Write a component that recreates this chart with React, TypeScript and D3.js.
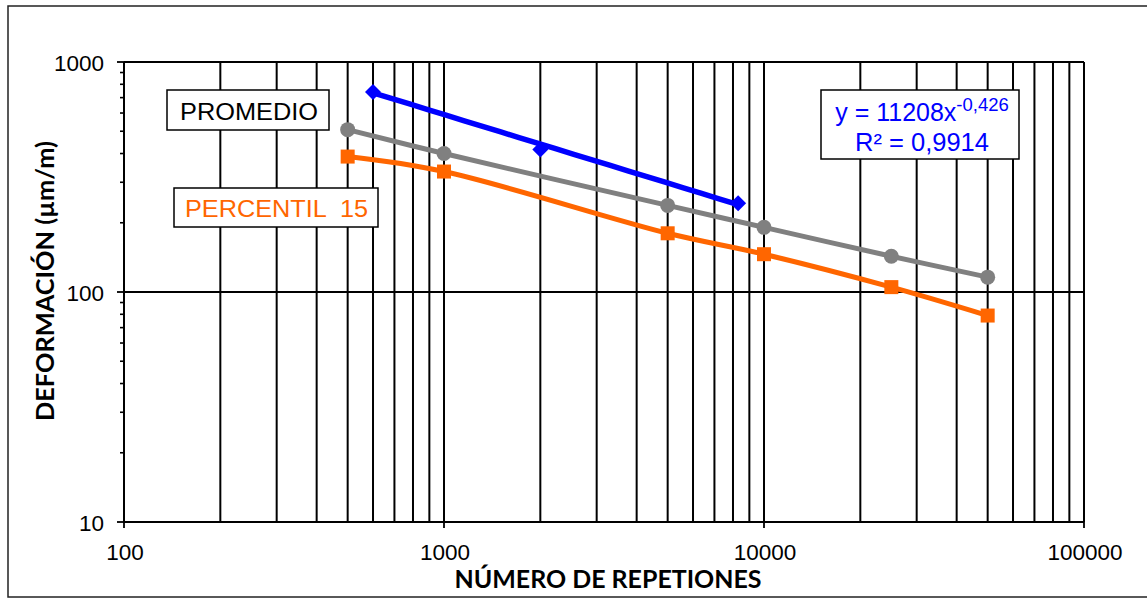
import React from "react";
import * as d3 from "d3";

const xTicks = [100, 1000, 10000, 100000];
const yTicks = [10, 100, 1000];

const promedioX = [500, 1000, 5000, 10000, 25000, 50000];
const promedioY = [508, 400, 238, 191, 143, 116];

const percentilX = [500, 1000, 5000, 10000, 25000, 50000];
const percentilY = [388, 334, 180, 146, 105, 79];

const azulX = [600, 2000, 8300];
const azulY = [741, 416, 243];

const trendA = 11208;
const trendB = -0.426;
const trendRange = [600, 8300];

export default function App() {
  const W = 1147, H = 599;
  const left = 124, right = 1084, top = 62, bottom = 522;
  const x = d3.scaleLog().domain([100, 100000]).range([left, right]);
  const y = d3.scaleLog().domain([10, 1000]).range([bottom, top]);

  const minorX: number[] = [];
  for (let d = 100; d < 100000; d *= 10) for (let k = 1; k <= 10; k++) minorX.push(d * k);
  const minorY: number[] = [];
  for (let d = 10; d < 1000; d *= 10) for (let k = 2; k <= 9; k++) minorY.push(d * k);

  const smooth = d3.line<[number, number]>().x(d => x(d[0])).y(d => y(d[1])).curve(d3.curveCatmullRom.alpha(0.5));
  const promPts = promedioX.map((v, i) => [v, promedioY[i]] as [number, number]);
  const percPts = percentilX.map((v, i) => [v, percentilY[i]] as [number, number]);
  const trendPts: [number, number][] = d3.range(0, 21).map(i => {
    const lx = Math.log10(trendRange[0]) + (Math.log10(trendRange[1]) - Math.log10(trendRange[0])) * i / 20;
    const xv = Math.pow(10, lx);
    return [xv, trendA * Math.pow(xv, trendB)];
  });
  const straight = d3.line<[number, number]>().x(d => x(d[0])).y(d => y(d[1]));

  const font = "'Liberation Sans', Arial, sans-serif";
  const titleFont = "Lato, 'Open Sans', sans-serif";

  return (
    <svg width={W} height={H} style={{ position: "absolute", left: 0, top: 0, background: "#fff" }}>
      <rect x={8} y={6} width={1150} height={591} fill="#fff" stroke="#222" strokeWidth={1.5} />
      {minorX.map((v, i) => (
        <line key={"gx" + i} x1={x(v)} x2={x(v)} y1={top} y2={bottom} stroke="#000" strokeWidth={2} />
      ))}
      {yTicks.map((v, i) => (
        <line key={"gy" + i} x1={left} x2={right} y1={y(v)} y2={y(v)} stroke="#000" strokeWidth={2} />
      ))}
      <line x1={left} x2={left} y1={top} y2={bottom} stroke="#000" strokeWidth={2} />
      <line x1={left} x2={right} y1={bottom} y2={bottom} stroke="#000" strokeWidth={2} />
      {minorY.map((v, i) => (
        <line key={"my" + i} x1={left - 4} x2={left} y1={y(v)} y2={y(v)} stroke="#000" strokeWidth={1.6} />
      ))}
      {yTicks.map((v, i) => (
        <line key={"ty" + i} x1={left - 7} x2={left} y1={y(v)} y2={y(v)} stroke="#000" strokeWidth={1.8} />
      ))}
      {xTicks.map((v, i) => (
        <line key={"tx" + i} x1={x(v)} x2={x(v)} y1={bottom} y2={bottom + 6} stroke="#000" strokeWidth={1.8} />
      ))}
      {yTicks.map((v, i) => (
        <text key={"ly" + i} x={104} y={y(v) + 9} textAnchor="end" fontFamily={font} fontSize={22.5} fill="#000">{v}</text>
      ))}
      {xTicks.map((v, i) => (
        <text key={"lx" + i} x={x(v) + 1} y={560} textAnchor="middle" fontFamily={font} fontSize={22.5} fill="#000">{v}</text>
      ))}
      <text x={608} y={588} textAnchor="middle" fontFamily={titleFont} fontWeight="bold" fontSize={25} textLength={307} lengthAdjust="spacingAndGlyphs" fill="#000">NÚMERO DE REPETIONES</text>
      <text transform={`translate(54,281) rotate(-90)`} textAnchor="middle" fontFamily={titleFont} fontWeight="bold" fontSize={25} textLength={280} lengthAdjust="spacingAndGlyphs" fill="#000">DEFORMACIÓN (µm/m)</text>

      <path d={smooth(percPts) || ""} fill="none" stroke="#FF6600" strokeWidth={5} />
      <path d={smooth(promPts) || ""} fill="none" stroke="#808080" strokeWidth={5} />
      <path d={straight(trendPts) || ""} fill="none" stroke="#0000FF" strokeWidth={5.5} />
      {percPts.map((d, i) => (
        <rect key={"ps" + i} x={x(d[0]) - 7} y={y(d[1]) - 7} width={14} height={14} fill="#FF6600" />
      ))}
      {promPts.map((d, i) => (
        <circle key={"pc" + i} cx={x(d[0])} cy={y(d[1])} r={7.5} fill="#808080" />
      ))}
      {azulX.map((v, i) => (
        <path key={"az" + i} d={`M${x(v)},${y(azulY[i]) - 8} L${x(v) + 8},${y(azulY[i])} L${x(v)},${y(azulY[i]) + 8} L${x(v) - 8},${y(azulY[i])} Z`} fill="#0000FF" />
      ))}

      <rect x={167} y={90} width={162} height={40} fill="#fff" stroke="#000" strokeWidth={1.5} />
      <text x={249} y={120} textAnchor="middle" fontFamily={font} fontSize={24.5} textLength={138} lengthAdjust="spacingAndGlyphs" fill="#000">PROMEDIO</text>
      <rect x={174} y={188} width={204} height={39} fill="#fff" stroke="#000" strokeWidth={1.5} />
      <text x={276.5} y={217} textAnchor="middle" fontFamily={font} fontSize={24.5} textLength={183} lengthAdjust="spacingAndGlyphs" fill="#FF6600" style={{ whiteSpace: "pre" }}>{"PERCENTIL  15"}</text>
      <rect x={821} y={90} width={198} height={69} fill="#fff" stroke="#000" strokeWidth={1.5} />
      <text x={922} y={121} textAnchor="middle" fontFamily={font} fontSize={25} fill="#0000FF">
        y = 11208x<tspan dy={-10} fontSize={18.5}>-0,426</tspan>
      </text>
      <text x={922} y={151} textAnchor="middle" fontFamily={font} fontSize={25.5} fill="#0000FF">R² = 0,9914</text>
    </svg>
  );
}
